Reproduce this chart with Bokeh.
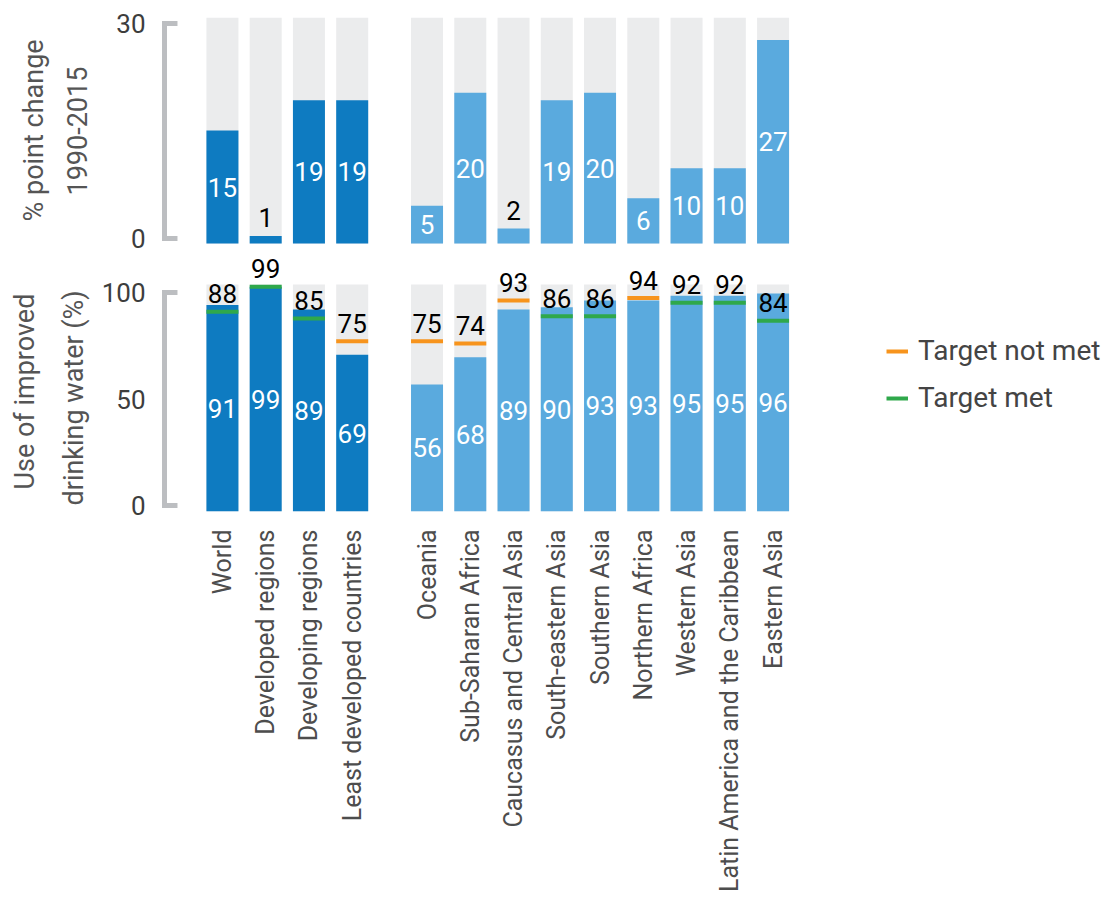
from math import pi

from bokeh.plotting import figure
from bokeh.models import (ColumnDataSource, Range1d, LinearAxis, FixedTicker,
                          Legend, LegendItem, Title)
from bokeh.layouts import column
from bokeh.embed import file_html
from bokeh.resources import INLINE
from bokeh.core.properties import value

# ---------------------------------------------------------------- data
regions = [
    "World", "Developed regions", "Developing regions", "Least developed countries",
    "Oceania", "Sub-Saharan Africa", "Caucasus and Central Asia", "South-eastern Asia",
    "Southern Asia", "Northern Africa", "Western Asia",
    "Latin America and the Caribbean", "Eastern Asia",
]
n_aggregates = 4  # World and the three development groupings
point_change = [15, 1, 19, 19, 5, 20, 2, 19, 20, 6, 10, 10, 27]
water_use = [91, 99, 89, 69, 56, 68, 89, 90, 93, 93, 95, 95, 96]
mdg_target = [88, 99, 85, 75, 75, 74, 93, 86, 86, 94, 92, 92, 84]
change_ticks = [0, 30]
use_ticks = [0, 50, 100]

# ---------------------------------------------------------------- styling
FONT = "Roboto"
AGG_BLUE = "#0e7bc1"
REGION_BLUE = "#5aaade"
TRACK_GRAY = "#ebeced"
MISS_ORANGE = "#f7941d"
MET_GREEN = "#2fa84b"
BRACKET_GRAY = "#bcbec1"
TICK_COLOR = "#3d3d3d"
TITLE_COLOR = "#555555"
CAT_COLOR = "#4d4d4d"

# ---------------------------------------------------------------- layout (px)
W, H = 1109, 899
FRAME_L = 158             # left edge of both plot frames
X0_PX = 221               # centre of the first bar
PX_PER_UNIT = 0.433       # one bar step = 100 units = 43.3 px
GROUP_GAP = 73            # extra space between aggregates and regions (units)
BAR_W = 74
SPLIT = 253               # page row where the two panels meet

TOP_FRAME_TOP, TOP_BASE = 17, 243
BOT_BASE, BOT_100 = 511, 284
TOP_AX = (238, 23)        # pixel rows of the top axis rule ends (0, 30)
BOT_AX = (505, 292)       # pixel rows of the bottom axis rule ends (0, 100)
BAR_LABEL_GAP = 18        # label centre above a short bar (px)
TARGET_LABEL_GAP = 18     # label centre above a target mark (px)
TITLE_SIZE = 27

n = len(regions)
xs = [100 * i + (GROUP_GAP if i >= n_aggregates else 0) for i in range(n)]
bar_colors = [AGG_BLUE if i < n_aggregates else REGION_BLUE for i in range(n)]

x_range = Range1d((FRAME_L - X0_PX) / PX_PER_UNIT, (W - X0_PX) / PX_PER_UNIT)


def value_range(px_zero, px_max, vmax, frame_top, frame_bottom):
    scale = (px_zero - px_max) / vmax
    return Range1d(-(frame_bottom - px_zero) / scale, (px_zero - frame_top) / scale), scale


def style_axes(p, ticks, ax_range, titles, title_offsets, pad):
    p.extra_y_ranges = {"ax": ax_range}
    ax = LinearAxis(y_range_name="ax", ticker=FixedTicker(ticks=ticks))
    ax.axis_line_color = None
    ax.major_tick_line_color = None
    ax.minor_tick_line_color = None
    ax.major_tick_in = 0
    ax.major_tick_out = 0
    ax.major_label_standoff = 14
    ax.major_label_text_font = FONT
    ax.major_label_text_font_size = "26px"
    ax.major_label_text_color = TICK_COLOR
    if pad:
        # keeps the title column at the same distance as in the wider-labelled panel
        ax.axis_label = " "
        ax.axis_label_text_font_size = "1px"
        ax.axis_label_standoff = pad
    p.add_layout(ax, "left")

    # two-line axis title; the inner line is added first so it sits nearest the axis
    for text, offset, standoff in ((titles[1], title_offsets[1], 18),
                                   (titles[0], title_offsets[0], 12)):
        p.add_layout(Title(text=text, align="left", offset=offset,
                           standoff=standoff, text_font=FONT,
                           text_font_size=f"{TITLE_SIZE}px",
                           text_font_style="normal", text_color=TITLE_COLOR), "left")

    # bracket-shaped axis rule
    bx_line = (163 - X0_PX) / PX_PER_UNIT
    bx_tip = (176 - X0_PX) / PX_PER_UNIT
    p.line(x=[bx_tip, bx_line, bx_line, bx_tip],
           y=[ticks[-1], ticks[-1], ticks[0], ticks[0]],
           y_range_name="ax", line_color=BRACKET_GRAY, line_width=5,
           line_join="miter", line_cap="butt")


def base_figure(height, y_range, border_top, border_bottom, x_axis):
    p = figure(width=W, height=height, x_range=x_range, y_range=y_range,
               output_backend="svg", toolbar_location=None,
               x_axis_location="below" if x_axis else None,
               y_axis_location=None,
               min_border_left=FRAME_L, min_border_right=0,
               min_border_top=border_top, min_border_bottom=border_bottom)
    p.outline_line_color = None
    p.grid.grid_line_color = None
    p.background_fill_color = "white"
    p.border_fill_color = "white"
    return p


# ================================================================ top panel
top_range, top_scale = value_range(TOP_BASE, TOP_FRAME_TOP, change_ticks[-1],
                                   TOP_FRAME_TOP, SPLIT)
top_ax, _ = value_range(TOP_AX[0], TOP_AX[1], change_ticks[-1], TOP_FRAME_TOP, SPLIT)
p_top = base_figure(SPLIT, top_range, TOP_FRAME_TOP, 0, False)
style_axes(p_top, change_ticks, top_ax, ("% point change", "1990-2015"),
           (32, 58), 14)

p_top.vbar(x=xs, width=BAR_W, bottom=0, top=change_ticks[-1],
           fill_color=TRACK_GRAY, line_color=None)
p_top.vbar(x=xs, width=BAR_W, bottom=0, top=point_change,
           fill_color=bar_colors, line_color=None)

inside = [v * top_scale >= 30 for v in point_change]
src_in = ColumnDataSource(dict(
    x=[x for x, k in zip(xs, inside) if k],
    y=[v / 2 for v, k in zip(point_change, inside) if k],
    t=[str(v) for v, k in zip(point_change, inside) if k]))
src_out = ColumnDataSource(dict(
    x=[x for x, k in zip(xs, inside) if not k],
    y=[v + BAR_LABEL_GAP / top_scale for v, k in zip(point_change, inside) if not k],
    t=[str(v) for v, k in zip(point_change, inside) if not k]))
p_top.text(x="x", y="y", text="t", source=src_in, text_color="white",
           text_font=value(FONT), text_font_size="26px",
           text_align="center", text_baseline="middle")
p_top.text(x="x", y="y", text="t", source=src_out, text_color="black",
           text_font=value(FONT), text_font_size="26px",
           text_align="center", text_baseline="middle")

# ================================================================ bottom panel
bot_range, bot_scale = value_range(BOT_BASE, BOT_100, use_ticks[-1], SPLIT, BOT_BASE)
bot_ax, _ = value_range(BOT_AX[0], BOT_AX[1], use_ticks[-1], SPLIT, BOT_BASE)
p_bot = base_figure(H - SPLIT, bot_range, 0, H - BOT_BASE, True)
style_axes(p_bot, use_ticks, bot_ax, ("Use of improved", "drinking water (%)"),
           (22, 6), 0)

xa = p_bot.xaxis[0]
xa.ticker = FixedTicker(ticks=xs)
xa.major_label_overrides = {x: name for x, name in zip(xs, regions)}
xa.major_label_orientation = pi / 2
xa.axis_line_color = None
xa.major_tick_line_color = None
xa.minor_tick_line_color = None
xa.major_tick_in = 0
xa.major_tick_out = 0
xa.major_label_standoff = 18
xa.major_label_text_font = FONT
xa.major_label_text_font_size = "25px"
xa.major_label_text_color = CAT_COLOR

p_bot.vbar(x=xs, width=BAR_W, bottom=0, top=use_ticks[-1],
           fill_color=TRACK_GRAY, line_color=None)
p_bot.vbar(x=xs, width=BAR_W, bottom=0, top=water_use,
           fill_color=bar_colors, line_color=None)
p_bot.text(x=xs, y=[v / 2 for v in water_use], text=[str(v) for v in water_use],
           text_color="white", text_font=value(FONT), text_font_size="26px",
           text_align="center", text_baseline="middle")

met = [u >= t for u, t in zip(water_use, mdg_target)]


def target_source(flag):
    sel = [i for i in range(n) if met[i] == flag]
    return ColumnDataSource(dict(
        x0=[xs[i] - BAR_W / 2 for i in sel],
        x1=[xs[i] + BAR_W / 2 for i in sel],
        y=[mdg_target[i] for i in sel]))


r_miss = p_bot.segment(x0="x0", x1="x1", y0="y", y1="y", source=target_source(False),
                       line_color=MISS_ORANGE, line_width=4, line_cap="butt")
r_met = p_bot.segment(x0="x0", x1="x1", y0="y", y1="y", source=target_source(True),
                      line_color=MET_GREEN, line_width=4, line_cap="butt")

p_bot.text(x=xs, y=[t + TARGET_LABEL_GAP / bot_scale for t in mdg_target],
           text=[str(t) for t in mdg_target],
           text_color="black", text_font=value(FONT), text_font_size="26px",
           text_align="center", text_baseline="middle")

legend = Legend(items=[LegendItem(label="Target not met", renderers=[r_miss]),
                       LegendItem(label="Target met", renderers=[r_met])],
                location=(885 - FRAME_L, BOT_BASE - 414))
legend.glyph_width = 22
legend.glyph_height = 28
legend.label_height = 28
legend.spacing = 14
legend.padding = 0
legend.margin = 0
legend.label_standoff = 10
legend.border_line_color = None
legend.background_fill_alpha = 0
legend.label_text_font = FONT
legend.label_text_font_size = "28px"
legend.label_text_color = "#444444"
p_bot.add_layout(legend)

layout = column(p_top, p_bot, spacing=0)

with open("out.html", "w") as f:
    f.write(file_html(layout, INLINE))
